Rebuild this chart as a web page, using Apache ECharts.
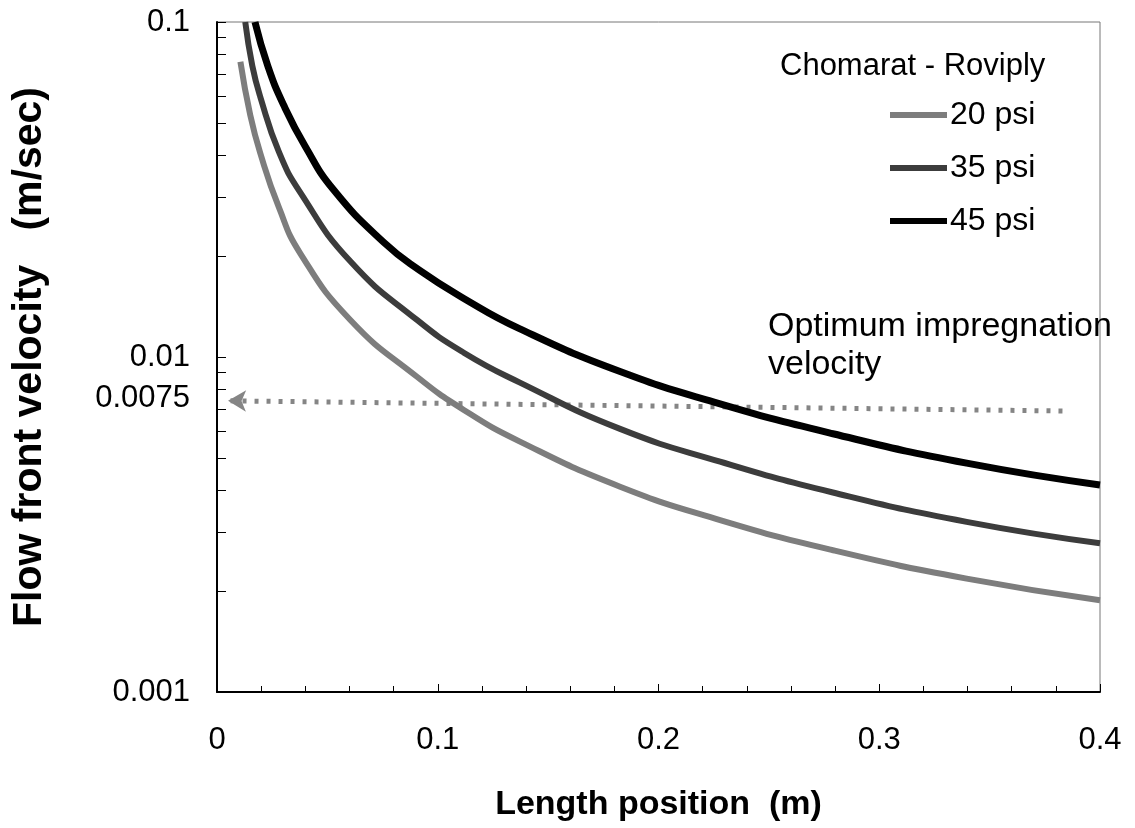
<!DOCTYPE html>
<html>
<head>
<meta charset="utf-8">
<script src="https://cdn.jsdelivr.net/npm/echarts@6/dist/echarts.min.js"></script>
<style>html,body{margin:0;padding:0;background:#fff}#c{width:1135px;height:828px}</style>
</head>
<body>
<div id="c"></div>
<script>
// Data
const xPsi20 = [0.0106, 0.0150, 0.0196, 0.0280, 0.0377, 0.0604, 0.0906, 0.1118, 0.137, 0.1826, 0.2279, 0.279, 0.3396, 0.4];
const vPsi20 = [0.0761, 0.0530, 0.0406, 0.0280, 0.0204, 0.0129, 0.00873, 0.00695, 0.00560, 0.0041, 0.00326, 0.00265, 0.00218, 0.00188];
const xPsi35 = [0.0128, 0.0160, 0.0196, 0.0280, 0.0377, 0.0604, 0.0906, 0.1118, 0.137, 0.1826, 0.2279, 0.279, 0.3396, 0.4];
const vPsi35 = [0.1, 0.0740, 0.0598, 0.0410, 0.0310, 0.0193, 0.0129, 0.0103, 0.0084, 0.00610, 0.00487, 0.00394, 0.00322, 0.00278];
const xPsi45 = [0.0172, 0.0230, 0.0302, 0.0400, 0.0529, 0.0755, 0.0920, 0.1118, 0.137, 0.1826, 0.2279, 0.279, 0.3396, 0.4];
const vPsi45 = [0.1, 0.0740, 0.0565, 0.0425, 0.0315, 0.0220, 0.0181, 0.01496, 0.01215, 0.00905, 0.00725, 0.00590, 0.00482, 0.00415];
const seriesNames = ['20 psi', '35 psi', '45 psi'];
const arrowX = [0.383, 0.005];
const arrowV = [0.0069, 0.0074];
const yTickLabels = [0.001, 0.0075, 0.01, 0.1];
const yMinorTicks = [0.001,0.002,0.003,0.004,0.005,0.006,0.007,0.008,0.009,0.01,0.02,0.03,0.04,0.05,0.06,0.07,0.08,0.09,0.1];
const xTickLabels = [0, 0.1, 0.2, 0.3, 0.4];

const zip = (xs, ys) => xs.map((x, i) => [x, ys[i]]);
const chart = echarts.init(document.getElementById('c'), null, {renderer: 'canvas'});
const FONT = 'Liberation Sans, Arial, sans-serif';
const arrowPts = zip(arrowX, arrowV);

chart.setOption({
  animation: false,
  backgroundColor: '#fff',
  textStyle: {fontFamily: FONT},
  grid: {left: 217, right: 35, top: 22, bottom: 136, show: true, borderColor: '#777', borderWidth: 1, backgroundColor: 'transparent'},
  legend: {
    orient: 'vertical', left: 885, top: 94, itemWidth: 57, itemHeight: 6, itemGap: 21,
    icon: 'rect', data: seriesNames,
    textStyle: {fontSize: 32, color: '#000', fontFamily: FONT, lineHeight: 32, padding: [0, 0, 0, -2]}
  },
  xAxis: {
    type: 'value', min: 0, max: 0.4, interval: 0.1,
    name: 'Length position  (m)', nameLocation: 'middle', nameGap: 96,
    nameTextStyle: {fontSize: 34, fontWeight: 'bold', color: '#000', fontFamily: FONT},
    axisLine: {show: true, lineStyle: {color: '#000', width: 2}},
    axisTick: {show: true, inside: true, length: 8, lineStyle: {color: '#000', width: 1}},
    minorTick: {show: true, splitNumber: 5, length: 6, lineStyle: {color: '#000', width: 1}},
    splitLine: {show: false},
    axisLabel: {fontSize: 31, color: '#000', margin: 33, fontFamily: FONT,
      customValues: xTickLabels, formatter: v => String(v)}
  },
  yAxis: {
    type: 'log', logBase: 10, min: 0.001, max: 0.1,
    name: 'Flow front velocity   (m/sec)', nameLocation: 'middle', nameGap: 167,
    nameTextStyle: {fontSize: 41, fontWeight: 'bold', color: '#000', fontFamily: FONT},
    axisLine: {show: true, lineStyle: {color: '#000', width: 2}},
    axisTick: {show: true, inside: true, length: 9, customValues: yMinorTicks, lineStyle: {color: '#000', width: 1}},
    minorTick: {show: false},
    splitLine: {show: false},
    axisLabel: {fontSize: 31, color: '#000', margin: 27, fontFamily: FONT,
      customValues: yTickLabels, formatter: v => String(v)}
  },
  series: [
    {name: seriesNames[0], type: 'line', smooth: true, showSymbol: false, data: zip(xPsi20, vPsi20),
      lineStyle: {color: '#7d7d7d', width: 6}, itemStyle: {color: '#7d7d7d'}, z: 3},
    {name: seriesNames[1], type: 'line', smooth: true, showSymbol: false, data: zip(xPsi35, vPsi35),
      lineStyle: {color: '#3c3c3c', width: 6}, itemStyle: {color: '#3c3c3c'}, z: 4},
    {name: seriesNames[2], type: 'line', smooth: true, showSymbol: false, data: zip(xPsi45, vPsi45),
      lineStyle: {color: '#000', width: 7}, itemStyle: {color: '#000'}, z: 5},
    {name: 'arrow', type: 'line', data: arrowPts, silent: true, showSymbol: false,
      lineStyle: {color: '#858585', width: 5, type: [4, 8], cap: 'butt'},
      markLine: {
        silent: true, symbol: ['none', 'arrow'], symbolSize: [16, 18],
        label: {show: false},
        lineStyle: {color: '#858585', width: 0, type: 'solid', opacity: 1},
        data: [[{coord: arrowPts[0]}, {coord: arrowPts[1]}]]
      }, z: 2}
  ],
  graphic: [
    {type: 'text', left: 780, top: 51, style: {text: 'Chomarat - Roviply', fontSize: 31, fill: '#000', fontFamily: FONT}},
    {type: 'text', left: 768, top: 308, style: {text: 'Optimum impregnation\nvelocity', fontSize: 34, lineHeight: 38, fill: '#000', fontFamily: FONT}}
  ]
});
</script>
</body>
</html>
